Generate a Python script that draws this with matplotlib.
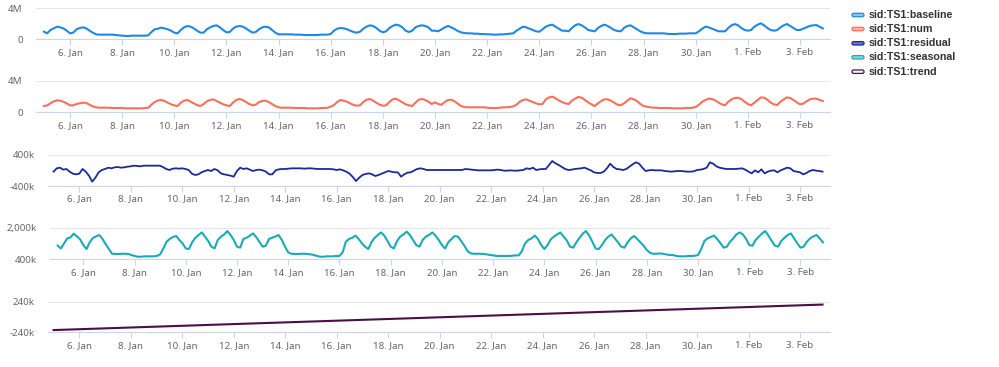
#plots the time series decomposition of sid:TS1 as five stacked panels

import numpy as np
import pandas as pd
import matplotlib
matplotlib.use('Agg')
import matplotlib.pyplot as plt
import matplotlib.dates as mdates
from matplotlib.patches import FancyBboxPatch
from matplotlib.transforms import IdentityTransform

#3-hourly samples starting 5 Jan 00:00, one row per day
#baseline and num in millions, residual and seasonal in thousands
baseline = [
    0.98, 0.77, 1.20, 1.41, 1.63, 1.54, 1.41, 1.11,
    0.77, 0.86, 1.29, 1.46, 1.54, 1.41, 1.11, 0.86,
    0.64, 0.60, 0.60, 0.60, 0.60, 0.60, 0.55, 0.51,
    0.47, 0.43, 0.43, 0.47, 0.47, 0.47, 0.47, 0.47,
    0.51, 0.94, 1.29, 1.37, 1.50, 1.41, 1.29, 1.11,
    0.86, 0.77, 1.20, 1.54, 1.72, 1.63, 1.41, 1.11,
    0.86, 0.86, 1.29, 1.54, 1.72, 1.80, 1.54, 1.20,
    0.90, 0.94, 1.37, 1.63, 1.72, 1.63, 1.41, 1.11,
    0.86, 0.94, 1.29, 1.54, 1.63, 1.54, 1.20, 0.86,
    0.64, 0.64, 0.64, 0.64, 0.64, 0.60, 0.60, 0.60,
    0.55, 0.55, 0.55, 0.55, 0.55, 0.60, 0.60, 0.60,
    0.68, 1.11, 1.37, 1.46, 1.41, 1.29, 1.11, 0.94,
    0.86, 0.98, 1.37, 1.63, 1.80, 1.72, 1.46, 1.11,
    0.90, 1.03, 1.46, 1.72, 1.89, 1.80, 1.54, 1.11,
    0.94, 1.11, 1.54, 1.72, 1.80, 1.72, 1.54, 1.11,
    1.11, 1.03, 1.29, 1.54, 1.72, 1.54, 1.33, 1.07,
    0.90, 0.81, 0.77, 0.77, 0.73, 0.73, 0.68, 0.68,
    0.64, 0.64, 0.60, 0.60, 0.64, 0.64, 0.68, 0.73,
    0.77, 1.11, 1.37, 1.63, 1.54, 1.37, 1.20, 1.03,
    0.98, 1.29, 1.63, 1.80, 1.89, 1.63, 1.37, 1.11,
    1.11, 1.03, 1.46, 1.80, 1.97, 1.80, 1.54, 1.20,
    1.11, 1.03, 1.46, 1.72, 1.89, 1.72, 1.46, 1.20,
    1.07, 1.03, 1.46, 1.72, 1.80, 1.54, 1.29, 1.03,
    0.86, 0.77, 0.77, 0.77, 0.77, 0.77, 0.77, 0.73,
    0.68, 0.68, 0.68, 0.73, 0.73, 0.73, 0.77, 0.77,
    0.77, 1.03, 1.37, 1.63, 1.54, 1.37, 1.20, 1.03,
    1.03, 1.03, 1.46, 1.80, 1.97, 1.80, 1.46, 1.20,
    1.11, 1.20, 1.63, 1.89, 2.06, 1.80, 1.46, 1.20,
    1.11, 1.20, 1.54, 1.80, 1.97, 1.72, 1.46, 1.20,
    1.20, 1.37, 1.54, 1.72, 1.80, 1.84, 1.63, 1.41,
]

num = [
    0.82, 0.91, 1.16, 1.42, 1.54, 1.50, 1.37, 1.16,
    0.91, 0.91, 1.08, 1.16, 1.25, 1.21, 0.99, 0.78,
    0.66, 0.61, 0.61, 0.61, 0.61, 0.57, 0.57, 0.57,
    0.57, 0.53, 0.53, 0.53, 0.53, 0.53, 0.53, 0.57,
    0.61, 0.99, 1.33, 1.54, 1.59, 1.46, 1.25, 1.04,
    0.91, 0.82, 1.25, 1.50, 1.59, 1.37, 1.16, 0.95,
    0.82, 1.08, 1.42, 1.59, 1.67, 1.46, 1.25, 1.04,
    0.91, 0.82, 1.25, 1.59, 1.71, 1.59, 1.33, 1.08,
    0.91, 0.99, 1.33, 1.46, 1.50, 1.33, 1.08, 0.82,
    0.66, 0.61, 0.61, 0.61, 0.61, 0.57, 0.57, 0.57,
    0.57, 0.53, 0.53, 0.53, 0.53, 0.57, 0.57, 0.61,
    0.74, 0.95, 1.33, 1.59, 1.50, 1.37, 1.16, 0.95,
    0.87, 0.91, 1.33, 1.63, 1.71, 1.50, 1.25, 0.99,
    0.87, 0.91, 1.33, 1.67, 1.76, 1.54, 1.29, 1.04,
    0.91, 0.82, 1.25, 1.63, 1.71, 1.59, 1.37, 1.08,
    1.29, 1.08, 0.99, 1.33, 1.59, 1.63, 1.42, 1.12,
    0.82, 0.70, 0.66, 0.66, 0.66, 0.66, 0.66, 0.66,
    0.61, 0.57, 0.57, 0.57, 0.61, 0.66, 0.66, 0.70,
    0.78, 0.99, 1.37, 1.59, 1.67, 1.50, 1.33, 1.16,
    1.04, 1.08, 1.67, 1.92, 2.01, 1.80, 1.54, 1.33,
    1.16, 1.08, 1.50, 1.76, 1.97, 1.88, 1.59, 1.29,
    1.04, 0.82, 1.16, 1.46, 1.67, 1.67, 1.50, 1.25,
    0.99, 0.91, 1.16, 1.50, 1.80, 1.67, 1.46, 1.08,
    0.82, 0.74, 0.66, 0.61, 0.61, 0.57, 0.57, 0.57,
    0.57, 0.53, 0.53, 0.53, 0.53, 0.57, 0.57, 0.61,
    0.70, 0.99, 1.37, 1.59, 1.76, 1.71, 1.54, 1.25,
    1.04, 0.91, 1.37, 1.67, 1.84, 1.88, 1.71, 1.37,
    1.08, 0.91, 1.25, 1.59, 1.92, 1.88, 1.63, 1.25,
    1.04, 0.95, 1.37, 1.67, 1.92, 1.84, 1.59, 1.29,
    1.04, 1.12, 1.42, 1.67, 1.76, 1.76, 1.59, 1.46,
]

residual = [
    -30, 56, 73, 22, 39, -30, -82, -99,
    -82, 39, -30, -133, -288, -185, -47, 13,
    39, 73, 56, 82, 90, 73, 82, 99,
    108, 125, 116, 108, 125, 125, 125, 125,
    125, 125, 90, 39, 13, 47, 56, 47,
    56, 39, 13, -82, -116, -99, -47, -13,
    13, -13, 39, 4, -73, -99, -116, -133,
    -159, -13, 73, 39, 56, 22, -13, 13,
    22, 4, -30, -99, -99, 4, 30, 39,
    39, 47, 56, 56, 56, 56, 47, 56,
    56, 47, 39, 39, 39, 39, 39, 30,
    13, 30, 4, -30, -82, -168, -271, -185,
    -116, -90, -73, -99, -142, -116, -82, -47,
    -13, -30, -47, -47, -159, -99, -56, -47,
    -4, 39, 56, 39, 13, 13, 13, 13,
    13, 13, 13, 13, 13, 13, 13, 13,
    39, 30, 22, 13, 4, 4, 4, 4,
    4, 13, 22, 13, -4, -4, 4, -4,
    -4, 4, 13, 56, 39, 73, 13, 30,
    39, 39, 142, 245, 185, 142, 90, 39,
    13, 22, 39, 47, 56, 73, 39, 4,
    -47, -64, -64, -30, 56, 176, 90, 39,
    30, 13, 39, 99, 159, 211, 176, 73,
    -13, 4, 13, 4, 4, 4, -13, -21,
    -30, -21, -13, -13, -21, -30, -30, -21,
    13, 22, 39, 73, 211, 176, 108, 73,
    56, 39, 39, 39, 39, 47, 56, 22,
    -30, -73, 4, -47, 30, -73, -30, -4,
    4, -47, 4, 39, 73, 56, -13, -30,
    -47, -99, -64, -13, 13, -4, -13, -30,
]

seasonal = [
    1090, 950, 1210, 1460, 1510, 1700, 1560, 1410,
    1120, 920, 1260, 1480, 1560, 1630, 1430, 1160,
    920, 680, 670, 670, 680, 680, 670, 620,
    570, 530, 530, 550, 550, 550, 550, 570,
    650, 950, 1290, 1430, 1530, 1580, 1380, 1210,
    950, 920, 1260, 1490, 1630, 1760, 1550, 1330,
    1040, 950, 1380, 1550, 1660, 1830, 1630, 1380,
    1040, 990, 1430, 1490, 1600, 1710, 1530, 1290,
    1040, 1090, 1430, 1490, 1560, 1630, 1380, 1040,
    750, 680, 670, 670, 680, 680, 670, 650,
    620, 570, 530, 530, 550, 550, 550, 570,
    570, 750, 1290, 1430, 1490, 1600, 1430, 1210,
    1040, 920, 1260, 1490, 1630, 1760, 1600, 1330,
    1040, 950, 1330, 1550, 1660, 1800, 1630, 1380,
    1120, 1040, 1380, 1550, 1630, 1760, 1600, 1380,
    1120, 950, 1260, 1430, 1580, 1550, 1330, 1090,
    820, 700, 680, 680, 680, 670, 650, 620,
    600, 570, 570, 570, 570, 570, 580, 600,
    600, 820, 1210, 1380, 1460, 1600, 1430, 1120,
    920, 1120, 1410, 1550, 1660, 1760, 1550, 1360,
    1040, 990, 1260, 1490, 1700, 1830, 1600, 1290,
    950, 920, 1120, 1380, 1550, 1660, 1460, 1260,
    1040, 990, 1260, 1460, 1580, 1430, 1260, 1090,
    870, 730, 680, 680, 700, 680, 650, 620,
    620, 580, 550, 550, 550, 570, 570, 580,
    620, 920, 1330, 1460, 1530, 1600, 1430, 1210,
    990, 1040, 1290, 1460, 1660, 1760, 1660, 1430,
    1120, 1090, 1380, 1550, 1710, 1830, 1600, 1330,
    1090, 1040, 1330, 1490, 1630, 1710, 1460, 1210,
    990, 1040, 1290, 1460, 1560, 1630, 1460, 1260,
]

#trend is a straight line, read at a few dates (thousands)
trend_dates = ['2018-01-05 00:00', '2018-01-12 00:00', '2018-01-19 00:00',
               '2018-01-26 00:00', '2018-02-03 21:00']
trend = [-205, -111, -18, 76, 195]

series_names = ['sid:TS1:baseline', 'sid:TS1:num', 'sid:TS1:residual',
                'sid:TS1:seasonal', 'sid:TS1:trend']
colors = ['#1e88e5', '#f7705b', '#1a2a9a', '#19abb6', '#4b0f46']
swatch_fill = ['#8ec4f2', '#fbb5aa', '#6e78c4', '#8cd5da', '#ffffff']

ytick_values = [[0, 4], [0, 4], [-400, 400], [400, 2000], [-240, 240]]
ytick_labels = [['0', '4M'], ['0', '4M'], ['-400k', '400k'],
                ['400k', '2,000k'], ['-240k', '240k']]

times = pd.date_range('2018-01-05', periods=len(baseline), freq='3h')
trend_times = pd.to_datetime(trend_dates)

W, H = 999, 367
fig = plt.figure(figsize=(W / 100, H / 100), dpi=100)

#panel layout in pixels: left, top, bottom, and x range as (Jan day, Feb day)
layout = [
    (36, 8.3, 39.3, 4.696, 4.151),
    (36, 81.0, 112.5, 4.696, 4.151),
    (47.7, 155.0, 186.0, 4.772, 4.166),
    (50, 227.7, 259.3, 4.700, 4.152),
    (47.7, 301.7, 332.3, 4.772, 4.166),
]
right = 830

xs = [times, times, times, times, trend_times]
ys = [baseline, num, residual, seasonal, trend]

grid_color = '#e6e6e6'
axis_color = '#ccd6eb'
label_color = '#666666'
tick_font = 'Noto Sans'

jan0 = mdates.date2num(pd.Timestamp('2018-01-01'))
feb0 = mdates.date2num(pd.Timestamp('2018-02-01'))
xticks = pd.date_range('2018-01-06', '2018-02-03', freq='2D')

for i in range(5):
    left, top, bottom, x0, x1 = layout[i]
    ax = fig.add_axes([left / W, 1 - bottom / H, (right - left) / W, (bottom - top) / H])
    ax.plot(xs[i], ys[i], color=colors[i], lw=1.5 if i != 2 else 1.3,
            solid_joinstyle='round', clip_on=False)

    ax.set_xlim(jan0 + x0 - 1, feb0 + x1 - 1)
    ax.set_ylim(ytick_values[i][0], ytick_values[i][1])

    #y axis: only two labels, top gridline
    ax.set_yticks(ytick_values[i])
    ax.set_yticklabels(ytick_labels[i])
    ax.tick_params(axis='y', length=0, pad=9.5, labelsize=7, labelcolor=label_color)
    ax.yaxis.grid(True, color=grid_color, lw=0.8)

    #x axis ticks every 2 days
    ax.set_xticks(xticks)
    ax.set_xticklabels(['%d. %s' % (d.day, d.strftime('%b')) for d in xticks])
    ax.tick_params(axis='x', direction='out', length=4.5, width=0.8, color=axis_color,
                   pad=1.5, labelsize=7, labelcolor=label_color)

    for lab in ax.get_xticklabels() + ax.get_yticklabels():
        lab.set_family(tick_font)

    for side in ['top', 'left', 'right']:
        ax.spines[side].set_visible(False)
    ax.spines['bottom'].set_color(axis_color)
    ax.spines['bottom'].set_linewidth(0.8)
    ax.set_axisbelow(True)
    ax.patch.set_visible(False)

#legend at top right
legend_y = [15, 29, 43.3, 57.3, 71.7]
for i, name in enumerate(series_names):
    y = H - legend_y[i]
    box = FancyBboxPatch((852, y - 1.7), 12, 3.4, boxstyle='round,pad=0,rounding_size=1.7',
                         facecolor=swatch_fill[i], edgecolor=colors[i], lw=0.9,
                         transform=IdentityTransform())
    fig.add_artist(box)
    fig.text(869 / W, y / H, name, va='center', ha='left', fontsize=7.7,
             fontweight='bold', family='Liberation Sans', color='#333333')

plt.savefig('out.png', dpi=100)
